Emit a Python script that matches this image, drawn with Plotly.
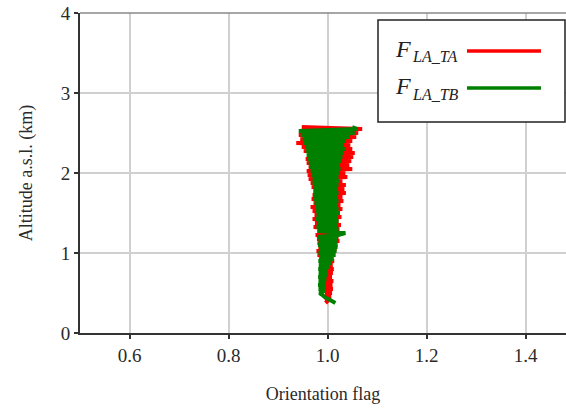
import plotly.graph_objects as go

altitude_km = [0.375, 0.400, 0.425, 0.450, 0.475, 0.500, 0.525, 0.550, 0.575, 0.600,
               0.625, 0.650, 0.675, 0.700, 0.725, 0.750, 0.775, 0.800, 0.825, 0.850,
               0.875, 0.900, 0.925, 0.950, 0.975, 1.000, 1.025, 1.050, 1.075, 1.100,
               1.125, 1.150, 1.175, 1.200, 1.225, 1.250, 1.275, 1.300, 1.325, 1.350,
               1.375, 1.400, 1.425, 1.450, 1.475, 1.500, 1.525, 1.550, 1.575, 1.600,
               1.625, 1.650, 1.675, 1.700, 1.725, 1.750, 1.775, 1.800, 1.825, 1.850,
               1.875, 1.900, 1.925, 1.950, 1.975, 2.000, 2.025, 2.050, 2.075, 2.100,
               2.125, 2.150, 2.175, 2.200, 2.225, 2.250, 2.275, 2.300, 2.325, 2.350,
               2.375, 2.400, 2.425, 2.450, 2.475, 2.500, 2.525, 2.550, 2.575]

f_la_ta = [0.996, 1.000, 0.998, 1.006, 0.996, 1.008, 0.995, 1.010, 0.997, 1.009,
           0.994, 1.011, 0.996, 1.008, 0.993, 1.010, 0.995, 1.012, 0.988, 1.010,
           0.986, 1.013, 0.984, 1.011, 0.980, 1.015, 0.978, 1.018, 0.982, 1.020,
           0.980, 1.024, 0.979, 1.022, 0.976, 1.026, 0.980, 1.024, 0.972, 1.027,
           0.975, 1.022, 0.970, 1.028, 0.974, 1.025, 0.970, 1.030, 0.966, 1.026,
           0.972, 1.032, 0.968, 1.030, 0.970, 1.037, 0.972, 1.034, 0.968, 1.037,
           0.966, 1.030, 0.962, 1.040, 0.960, 1.036, 0.958, 1.050, 0.962, 1.044,
           0.958, 1.048, 0.956, 1.052, 0.960, 1.055, 0.952, 1.050, 0.948, 1.046,
           0.937, 1.050, 0.945, 1.058, 0.942, 1.062, 0.946, 1.070, 0.948]

f_la_tb = [1.016, 1.008, 1.000, 0.994, 0.990, 0.984, 0.994, 0.983, 0.996, 0.982,
           0.995, 0.983, 0.997, 0.982, 0.998, 0.983, 1.000, 0.982, 1.004, 0.983,
           1.008, 0.982, 1.012, 0.984, 1.016, 0.982, 1.018, 0.983, 1.020, 0.981,
           1.019, 0.982, 1.021, 0.980, 1.022, 1.036, 0.980, 1.022, 0.978, 1.020,
           0.979, 1.022, 0.977, 1.021, 0.978, 1.023, 0.976, 1.022, 0.975, 1.021,
           0.974, 1.022, 0.973, 1.020, 0.972, 1.022, 0.972, 1.021, 0.971, 1.022,
           0.970, 1.023, 0.970, 1.022, 0.969, 1.024, 0.966, 1.026, 0.964, 1.025,
           0.962, 1.028, 0.961, 1.030, 0.958, 1.032, 0.957, 1.035, 0.955, 1.032,
           0.952, 1.036, 0.950, 1.045, 0.946, 1.055, 0.942, 1.060, 1.050]

x_ticks = [0.6, 0.8, 1.0, 1.2, 1.4]
x_tick_text = ["0.6", "0.8", "1.0", "1.2", "1.4"]
y_ticks = [0, 1, 2, 3, 4]

legend_main = ["F", "F"]
legend_subs = ["LA_TA", "LA_TB"]
legend_colors = ["#ff0000", "#008000"]

FONT = "Liberation Serif"

fig = go.Figure()
fig.add_trace(go.Scatter(x=f_la_ta, y=altitude_km, mode="lines", name="F_LA_TA",
                         line=dict(color=legend_colors[0], width=4), showlegend=False))
fig.add_trace(go.Scatter(x=f_la_tb, y=altitude_km, mode="lines", name="F_LA_TB",
                         line=dict(color=legend_colors[1], width=4), showlegend=False))

W, H = 566, 412
ml, mr, mt, mb = 80, 0, 13, 79
pw = W - ml - mr
ph = H - mt - mb
x_lo = 0.5
x_hi = x_lo + pw / 495.0

fig.update_layout(
    width=W, height=H,
    margin=dict(l=ml, r=mr, t=mt, b=mb, pad=0),
    plot_bgcolor="white", paper_bgcolor="white",
    font=dict(family=FONT, size=19, color="#2a2a2a"),
    xaxis=dict(range=[x_lo, x_hi], tickvals=x_ticks, ticktext=x_tick_text,
               showgrid=True, gridcolor="#d0d0d0", gridwidth=1.5,
               showline=True, linecolor="#333", linewidth=2,
               ticks="outside", ticklen=4, tickcolor="#333", tickwidth=1.5,
               zeroline=False,
               title=dict(text="Orientation flag", font=dict(size=18, family=FONT), standoff=23)),
    yaxis=dict(range=[0, 4], tickvals=y_ticks,
               showgrid=True, gridcolor="#d0d0d0", gridwidth=1.5,
               showline=True, linecolor="#333", linewidth=2,
               ticks="outside", ticklen=4, tickcolor="#333", tickwidth=1.5,
               zeroline=False,
               title=dict(text="Altitude a.s.l. (km)", font=dict(size=18, family=FONT), standoff=23)),
)

# top frame line
fig.add_shape(type="line", xref="paper", yref="paper", x0=0, x1=1, y0=1, y1=1,
              line=dict(color="#888", width=1.5))

# custom legend box (text left, line sample right); positions given in page pixels
def px_x(p):
    return (p - ml) / pw

def px_y(p):
    return 1 - (p - mt) / ph

fig.add_shape(type="rect", xref="paper", yref="paper",
              x0=px_x(378), x1=px_x(565), y0=px_y(122), y1=px_y(20),
              line=dict(color="#222", width=1.5), fillcolor="white", layer="above")

legend_rows = [51, 88]
for main, sub, color, ypx in zip(legend_main, legend_subs, legend_colors, legend_rows):
    fig.add_annotation(xref="paper", yref="paper", x=px_x(393), y=px_y(ypx - 2),
                       xanchor="left", yanchor="middle", showarrow=False,
                       text="<i>" + main + "</i>", font=dict(family=FONT, size=24, color="#222"))
    fig.add_annotation(xref="paper", yref="paper", x=px_x(410), y=px_y(ypx + 6),
                       xanchor="left", yanchor="middle", showarrow=False,
                       text="<i>" + sub + "</i>", font=dict(family=FONT, size=16, color="#222"))
    fig.add_shape(type="line", xref="paper", yref="paper",
                  x0=px_x(467), x1=px_x(541), y0=px_y(ypx), y1=px_y(ypx),
                  line=dict(color=color, width=3.5), layer="above")

fig.write_html("out.html", config={"displayModeBar": False},
               post_script="document.body.style.margin='0';document.body.style.overflow='hidden';")
